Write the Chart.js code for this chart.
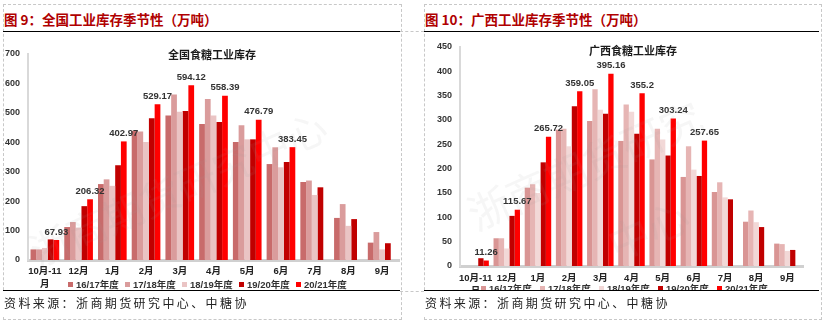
<!DOCTYPE html>
<html>
<head>
<meta charset="utf-8">
<script src="https://cdn.jsdelivr.net/npm/chart.js@4.4.0/dist/chart.umd.min.js"></script>
<style>
  body { margin: 0; width: 823px; height: 322px; background: #fff; position: relative; overflow: hidden;
         font-family: 'Liberation Sans', 'Noto Sans CJK SC', sans-serif; }
  .box { position: absolute; border: 1px dashed #c8c8c8; }
  .dash { position: absolute; border-top: 1px dashed #c8c8c8; height: 0; }
  .figTitle { position: absolute; top: 9px; font-family: 'Noto Sans CJK SC', sans-serif; font-weight: bold;
              font-size: 13.5px; color: #b00000; white-space: nowrap; }
  .rule { position: absolute; height: 0; border-top: 1.5px solid #000; }
  .cv { position: absolute; }
  .chartName { position: absolute; font-family: 'Noto Sans CJK SC', sans-serif; font-weight: bold; font-size: 11px; color: #1a1a1a; white-space: nowrap; }
  .lg { position: absolute; font-family: 'Liberation Sans', 'Noto Sans CJK SC', sans-serif; font-weight: bold; font-size: 9.5px; color: #333; white-space: nowrap; }
  .lg i { display: inline-block; width: 5px; height: 5px; margin-right: 3px; vertical-align: 1px; }
  .foot { position: absolute; background: #fff; border-top: 1.5px solid #000; height: 26px; }
  .src { position: absolute; top: 294px; font-family: 'Noto Sans CJK SC', sans-serif; font-size: 12px; letter-spacing: 2.4px; color: #222; white-space: nowrap; }
</style>
</head>
<body>
<div class="box" style="left:3px;top:4px;width:397px;height:314px;"></div>
<div class="box" style="left:424px;top:4px;width:396px;height:314px;"></div>
<div class="dash" style="left:400px;top:31px;width:24px;"></div>
<div class="dash" style="left:400px;top:291px;width:24px;"></div>

<div class="figTitle" style="left:4px;">图 9：全国工业库存季节性（万吨）</div>
<div class="figTitle" style="left:425px;">图 10：广西工业库存季节性（万吨）</div>
<div class="rule" style="left:3px;top:31px;width:397px;"></div>
<div class="rule" style="left:424px;top:31px;width:395px;"></div>

<div class="cv" style="left:4px;top:32px;width:396px;height:258px;"><canvas id="chartNational"></canvas></div>
<div class="cv" style="left:425px;top:32px;width:394px;height:259px;"><canvas id="chartGuangxi"></canvas></div>

<div class="chartName" style="left:168px;top:46px;">全国食糖工业库存</div>
<div class="chartName" style="left:589px;top:42px;">广西食糖工业库存</div>

<div id="legendNational"></div>
<div id="legendGuangxi"></div>

<div class="foot" style="left:3px;top:290px;width:397px;"></div>
<div class="foot" style="left:424px;top:290px;width:395px;"></div>
<div class="src" style="left:4px;">资料来源：浙商期货研究中心、中糖协</div>
<div class="src" style="left:425px;">资料来源：浙商期货研究中心、中糖协</div>

<script>
const categories = [["10月-11", "月"], "12月", "1月", "2月", "3月", "4月", "5月", "6月", "7月", "8月", "9月"];
const seasons = ["16/17年度", "17/18年度", "18/19年度", "19/20年度", "20/21年度"];

// 全国食糖工业库存 (万吨)
const national1617 = [36, 112, 258, 439, 491, 462, 401, 326, 265, 143, 59];
const national1718 = [36, 129, 274, 437, 562, 547, 458, 383, 270, 190, 95];
const national1819 = [41, 110, 252, 401, 504, 491, 410, 315, 221, 116, 36];
const national1920 = [70, 183, 322, 482, 506, 469, 410, 333, 247, 139, 57];
const national2021 = [67.93, 206.32, 402.97, 529.17, 594.12, 558.39, 476.79, 383.45, null, null, null];

// 广西食糖工业库存 (万吨)
const guangxi1617 = [0, 57, 161, 280, 298, 257, 219, 183, 152, 91, 46];
const guangxi1718 = [0, 57, 168, 282, 363, 332, 282, 246, 172, 114, 45];
const guangxi1819 = [0, 36, 150, 246, 321, 317, 260, 198, 141, 90, 31];
const guangxi1920 = [16, 103, 213, 328, 313, 272, 227, 185, 137, 80, 33];
const guangxi2021 = [11.26, 115.67, 265.72, 359.05, 395.16, 355.2, 303.24, 257.65, null, null, null];

const nationalColors = ["#c86b6b", "#da9c9c", "#eac4c4", "#c00000", "#ff0000"];
const guangxiColors = ["#d99594", "#e6b5b4", "#f2d8d7", "#c00000", "#ff0000"];

const valueLabels = {
    id: "valueLabels",
    afterDatasetsDraw(chart) {
        const ctx = chart.ctx;
        const meta = chart.getDatasetMeta(4);
        const data = chart.data.datasets[4].data;
        ctx.save();
        ctx.font = "bold 9.5px 'Liberation Sans', sans-serif";
        ctx.fillStyle = "#333";
        ctx.textAlign = "center";
        ctx.textBaseline = "middle";
        meta.data.forEach((bar, i) => {
            if (data[i] == null) return;
            ctx.fillText(String(data[i]), bar.x, bar.y - 8);
        });
        ctx.restore();
    }
};

const watermark = {
    id: "watermark",
    afterDatasetsDraw(chart, args, opts) {
        const ctx = chart.ctx;
        ctx.save();
        ctx.font = opts.size + "px 'Noto Sans CJK SC', sans-serif";
        ctx.fillStyle = "rgba(150,150,150,0.09)";
        ctx.textBaseline = "middle";
        opts.lines.forEach((line) => {
            ctx.save();
            ctx.translate(line.x, line.y);
            ctx.rotate(-24 * Math.PI / 180);
            ctx.fillText(line.text, 0, 0);
            ctx.restore();
        });
        ctx.restore();
    }
};

const makeDatasets = (series, colors) => {
    return series.map((values, index) => ({
        label: seasons[index],
        data: values,
        backgroundColor: colors[index],
        categoryPercentage: 0.85,
        barPercentage: 1.0,
    }));
};

const makeChart = (canvasId, series, colors, yMax, yStep, layout, wm) => {
    const ctx = document.getElementById(canvasId).getContext("2d");
    return new Chart(ctx, {
        type: "bar",
        data: {
            labels: categories,
            datasets: makeDatasets(series, colors),
        },
        options: {
            responsive: true,
            maintainAspectRatio: false,
            animation: false,
            layout: { padding: layout.padding },
            plugins: {
                legend: { display: false },
                title: { display: false },
                tooltip: { enabled: false },
                watermark: wm,
            },
            scales: {
                x: {
                    grid: { display: false, drawTicks: false },
                    border: { display: true, color: "#d0d0d0", width: 3 },
                    ticks: {
                        color: "#222",
                        padding: layout.xPad,
                        maxRotation: 0,
                        autoSkip: false,
                        font: { family: "'Liberation Sans', 'Noto Sans CJK SC', sans-serif", size: 9.5, weight: "bold", lineHeight: 1.35 },
                    },
                    afterFit: (scale) => { scale.height = layout.xHeight; },
                },
                y: {
                    min: 0,
                    max: yMax,
                    grid: { display: false, drawTicks: false },
                    border: { display: true, color: "#d9d9d9", width: 2 },
                    ticks: {
                        stepSize: yStep,
                        color: "#333",
                        padding: 8,
                        font: { family: "'Liberation Sans', sans-serif", size: 9, weight: "bold" },
                    },
                    afterFit: (scale) => { scale.width = layout.yWidth; },
                },
            },
        },
        plugins: [valueLabels, watermark],
    });
};

const makeLegend = (divId, colors, left, top, spacing) => {
    const holder = document.getElementById(divId);
    seasons.forEach((name, index) => {
        const item = document.createElement("div");
        item.className = "lg";
        item.style.left = (left + index * spacing) + "px";
        item.style.top = top + "px";
        item.innerHTML = '<i style="background:' + colors[index] + '"></i>' + name;
        holder.appendChild(item);
    });
};

makeChart("chartNational",
    [national1617, national1718, national1819, national1920, national2021],
    nationalColors, 700, 100,
    { padding: { left: 0, right: 1, top: 22, bottom: 0 }, yWidth: 24, xHeight: 30, xPad: 5 },
    { size: 40, lines: [{ text: "浙商期货研究中心", x: 28, y: 222 }] });

makeChart("chartGuangxi",
    [guangxi1617, guangxi1718, guangxi1819, guangxi1920, guangxi2021],
    guangxiColors, 450, 50,
    { padding: { left: 0, right: 16, top: 15, bottom: 0 }, yWidth: 35, xHeight: 25, xPad: 6 },
    { size: 42, lines: [{ text: "浙商期货研究", x: 45, y: 185 }, { text: "中心", x: 185, y: 215 }] });

makeLegend("legendNational", nationalColors, 68, 277, 57);
makeLegend("legendGuangxi", guangxiColors, 481, 281, 59);
</script>
</body>
</html>
